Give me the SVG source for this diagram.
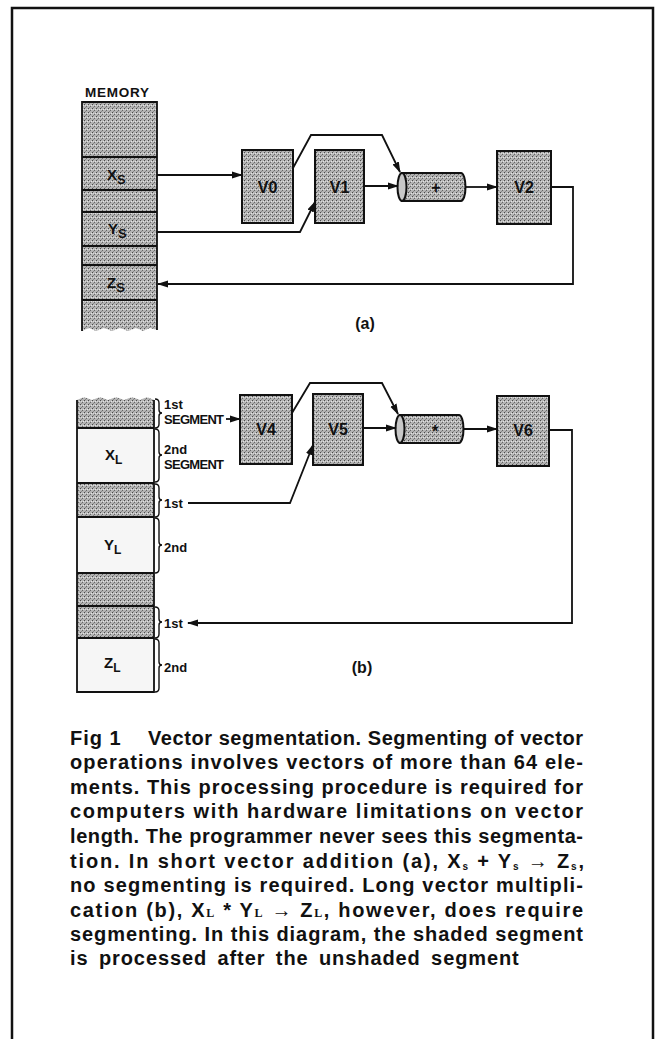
<svg xmlns="http://www.w3.org/2000/svg" width="661" height="1039" viewBox="0 0 661 1039">
<style>
.lbl{font-family:"Liberation Sans","DejaVu Sans",Arial,sans-serif;font-weight:bold;fill:#111}
.box{fill:url(#stip);stroke:#111;stroke-width:2}
.ln{fill:none;stroke:#111;stroke-width:1.8}
.br{fill:none;stroke:#111;stroke-width:1.4}
.cap{font-family:"Liberation Sans",Arial,sans-serif;font-weight:bold;font-size:20px;fill:#111}
</style>
<defs>
<pattern id="stip" width="4" height="4" patternUnits="userSpaceOnUse">
<rect width="4" height="4" fill="#b4b4b4"/>
<rect x="0" y="0" width="1" height="1" fill="#4a4a4a"/>
<rect x="2" y="2" width="1" height="1" fill="#666"/>
<rect x="3" y="1" width="1" height="1" fill="#e4e4e4"/>
<rect x="1" y="3" width="1" height="1" fill="#888"/>
<rect x="1" y="1" width="1" height="1" fill="#d8d8d8"/>
</pattern>
<marker id="ah" markerWidth="11" markerHeight="8" refX="10" refY="4" orient="auto" markerUnits="userSpaceOnUse">
<path d="M0,0.5 L11,4 L0,7.5 z" fill="#111"/>
</marker>
</defs>
<rect x="0" y="0" width="661" height="1039" fill="#fff"/>
<rect x="12" y="8" width="641" height="1045" fill="none" stroke="#111" stroke-width="2.5"/>

<!-- (a) memory -->
<g id="memory-a">
<text class="lbl" x="85" y="97" font-size="13.5" textLength="64">MEMORY</text>
<path d="M82,102 L157,102 L157,330 L150,328 L143,331 L136,328 L128,331 L120,328 L112,331 L104,328 L96,331 L89,328 L82,331 Z" fill="url(#stip)"/>
<path class="ln" d="M82,331 L82,102 L157,102 L157,330" stroke-width="2"/>
<g class="ln" stroke-width="2">
<line x1="82" y1="157" x2="157" y2="157"/>
<line x1="82" y1="190" x2="157" y2="190"/>
<line x1="82" y1="212" x2="157" y2="212"/>
<line x1="82" y1="246" x2="157" y2="246"/>
<line x1="82" y1="265" x2="157" y2="265"/>
<line x1="82" y1="300" x2="157" y2="300"/>
</g>
<text class="lbl" x="107" y="180" font-size="15">X<tspan font-size="13" dy="4">S</tspan></text>
<text class="lbl" x="108" y="234" font-size="15">Y<tspan font-size="13" dy="4">S</tspan></text>
<text class="lbl" x="107" y="288" font-size="15">Z<tspan font-size="13" dy="4">S</tspan></text>
</g>
<g id="V0"><rect class="box" x="242" y="150" width="51" height="73"/><text class="lbl" x="267.5" y="193" font-size="16" text-anchor="middle">V0</text></g>
<g id="V1"><rect class="box" x="315" y="150" width="49" height="73"/><text class="lbl" x="339.5" y="193" font-size="16" text-anchor="middle">V1</text></g>
<g id="V2"><rect class="box" x="497" y="151" width="54" height="73"/><text class="lbl" x="524" y="193" font-size="16" text-anchor="middle">V2</text></g>
<g id="adder">
<path d="M402,173 L461,173 A4.5,14 0 0 1 461,201 L402,201 Z" fill="url(#stip)" stroke="#111" stroke-width="2"/>
<ellipse cx="402" cy="187" rx="4.5" ry="14" fill="#c8c8c8" stroke="#111" stroke-width="2"/>
<text class="lbl" x="436" y="193" font-size="16" text-anchor="middle">+</text>
</g>
<text class="lbl" x="365" y="329" font-size="16" text-anchor="middle">(a)</text>

<!-- (b) memory -->
<g id="memory-b">
<path d="M77,400 L84,397 L92,400 L100,397 L108,400 L116,397 L124,400 L132,397 L140,400 L147,397 L154,400 L154,428 L77,428 Z" fill="url(#stip)"/>
<rect x="77" y="428" width="77" height="55" fill="#f6f6f6"/>
<rect x="77" y="483" width="77" height="34" fill="url(#stip)"/>
<rect x="77" y="517" width="77" height="56" fill="#f6f6f6"/>
<rect x="77" y="573" width="77" height="65" fill="url(#stip)"/>
<rect x="77" y="638" width="77" height="54" fill="#f6f6f6"/>
<path class="ln" d="M77,400 L77,692 L154,692 L154,400" stroke-width="2"/>
<g class="ln" stroke-width="2">
<line x1="77" y1="428" x2="154" y2="428"/>
<line x1="77" y1="483" x2="154" y2="483"/>
<line x1="77" y1="517" x2="154" y2="517"/>
<line x1="77" y1="573" x2="154" y2="573"/>
<line x1="77" y1="606" x2="154" y2="606"/>
<line x1="77" y1="638" x2="154" y2="638"/>
</g>
<text class="lbl" x="105" y="460" font-size="15">X<tspan font-size="12" dy="4">L</tspan></text>
<text class="lbl" x="104" y="550" font-size="15">Y<tspan font-size="12" dy="4">L</tspan></text>
<text class="lbl" x="104" y="668" font-size="15">Z<tspan font-size="12" dy="4">L</tspan></text>
<g class="br">
<path d="M155,399 Q159,399 159,403 L159,410 Q159,413 162,413 Q159,413 159,416 L159,424 Q159,428 155,428"/>
<path d="M155,429 Q159,429 159,433 L159,452 Q159,455 162,455 Q159,455 159,458 L159,478 Q159,482 155,482"/>
<path d="M155,484 Q159,484 159,488 L159,497 Q159,500 162,500 Q159,500 159,503 L159,513 Q159,517 155,517"/>
<path d="M155,518 Q159,518 159,522 L159,542 Q159,545 162,545 Q159,545 159,548 L159,569 Q159,573 155,573"/>
<path d="M155,607 Q159,607 159,611 L159,619 Q159,622 162,622 Q159,622 159,625 L159,634 Q159,638 155,638"/>
<path d="M155,639 Q159,639 159,643 L159,662 Q159,665 162,665 Q159,665 159,668 L159,688 Q159,692 155,692"/>
</g>
<text class="lbl" x="164" y="409" font-size="13">1st</text>
<text class="lbl" x="164" y="424" font-size="13" textLength="60">SEGMENT</text>
<text class="lbl" x="164" y="454" font-size="13">2nd</text>
<text class="lbl" x="164" y="469" font-size="13" textLength="60">SEGMENT</text>
<text class="lbl" x="164" y="508" font-size="13">1st</text>
<text class="lbl" x="164" y="552" font-size="13">2nd</text>
<text class="lbl" x="164" y="628" font-size="13">1st</text>
<text class="lbl" x="164" y="672" font-size="13">2nd</text>
</g>
<g id="V4"><rect class="box" x="240" y="395" width="52" height="69"/><text class="lbl" x="266" y="435" font-size="16" text-anchor="middle">V4</text></g>
<g id="V5"><rect class="box" x="313" y="394" width="50" height="71"/><text class="lbl" x="338" y="435" font-size="16" text-anchor="middle">V5</text></g>
<g id="V6"><rect class="box" x="497" y="396" width="52" height="70"/><text class="lbl" x="523" y="436" font-size="16" text-anchor="middle">V6</text></g>
<g id="multiplier">
<path d="M400,415 L459,415 A4.5,14 0 0 1 459,443 L400,443 Z" fill="url(#stip)" stroke="#111" stroke-width="2"/>
<ellipse cx="400" cy="429" rx="4.5" ry="14" fill="#c8c8c8" stroke="#111" stroke-width="2"/>
<text class="lbl" x="435" y="437" font-size="16" text-anchor="middle">*</text>
</g>
<text class="lbl" x="362" y="673" font-size="16" text-anchor="middle">(b)</text>

<g id="connectors" class="ln">
<path d="M157,175 L242,175" marker-end="url(#ah)"/>
<path d="M293,168 L311,135 L382,135 L400,172" marker-end="url(#ah)"/>
<path d="M157,232 L300,232 L315,202" marker-end="url(#ah)"/>
<path d="M364,186 L398,186" marker-end="url(#ah)"/>
<path d="M465,187 L497,187" marker-end="url(#ah)"/>
<path d="M551,187 L573,187 L573,284 L158,284" marker-end="url(#ah)"/>
<path d="M226,419 L240,419" marker-end="url(#ah)"/>
<path d="M292,413 L310,383 L382,383 L398,414" marker-end="url(#ah)"/>
<path d="M188,503 L290,503 L313,445" marker-end="url(#ah)"/>
<path d="M363,428 L396,428" marker-end="url(#ah)"/>
<path d="M463,429 L497,429" marker-end="url(#ah)"/>
<path d="M549,430 L572,430 L572,623 L188,623" marker-end="url(#ah)"/>
</g>

<g id="caption" class="cap">
<text x="70" y="745" letter-spacing="1">Fig 1</text>
<text x="148" y="745" textLength="435" lengthAdjust="spacing">Vector segmentation. Segmenting of vector</text>
<text x="70" y="769" textLength="513" lengthAdjust="spacing">operations involves vectors of more than 64 ele-</text>
<text x="70" y="794" textLength="513" lengthAdjust="spacing">ments. This processing procedure is required for</text>
<text x="70" y="818" textLength="513" lengthAdjust="spacing">computers with hardware limitations on vector</text>
<text x="70" y="843" textLength="513" lengthAdjust="spacing">length. The programmer never sees this segmenta-</text>
<text x="70" y="868" textLength="514" lengthAdjust="spacing">tion. In short vector addition (a), X<tspan font-size="10" dy="2">s</tspan><tspan dy="-2"> + Y</tspan><tspan font-size="10" dy="2">s</tspan><tspan dy="-2"> → Z</tspan><tspan font-size="10" dy="2">s</tspan><tspan dy="-2">,</tspan></text>
<text x="70" y="892" textLength="513" lengthAdjust="spacing">no segmenting is required. Long vector multipli-</text>
<text x="70" y="917" textLength="513" lengthAdjust="spacing">cation (b), X<tspan font-size="12" font-family="Liberation Serif,serif">L</tspan> * Y<tspan font-size="12" font-family="Liberation Serif,serif">L</tspan> → Z<tspan font-size="12" font-family="Liberation Serif,serif">L</tspan>, however, does require</text>
<text x="70" y="941" textLength="513" lengthAdjust="spacing">segmenting. In this diagram, the shaded segment</text>
<text x="70" y="965" letter-spacing="0.9" word-spacing="4">is processed after the unshaded segment</text>
</g>
</svg>
